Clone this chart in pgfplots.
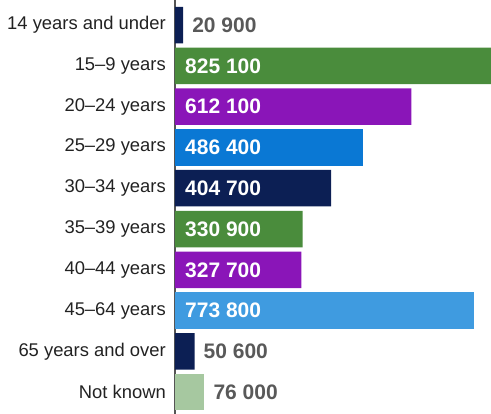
\documentclass[border=0pt]{standalone}
\usepackage{pgfplots}
\pgfplotsset{compat=1.18}
\usepackage{fontspec}
\setmainfont{Liberation Sans}

\definecolor{navy}{HTML}{0C1F54}
\definecolor{grn}{HTML}{4A8C3C}
\definecolor{purp}{HTML}{8A15B8}
\definecolor{blu}{HTML}{0A78D4}
\definecolor{lblu}{HTML}{3F9BE0}
\definecolor{lgrn}{HTML}{A6C8A0}
\definecolor{valgray}{HTML}{595959}
\definecolor{txt}{HTML}{222222}
\definecolor{axgray}{HTML}{555555}

\begin{document}
\begin{tikzpicture}
\begin{axis}[
   at={(0,0)}, anchor=south west,
   scale only axis,
   width=316pt, height=414pt,
   xmin=0, xmax=818600,
   ymin=-0.613, ymax=9.534,
   y dir=reverse,
   axis x line=none,
   axis y line*=left,
   axis line style={draw=axgray, line width=1.2pt},
   ytick={0,...,9},
   yticklabels={14 years and under, 15–9 years, 20–24 years, 25–29 years,
      30–34 years, 35–39 years, 40–44 years, 45–64 years,
      65 years and over, Not known},
   major tick length=0pt,
   yticklabel style={font=\fontsize{18.4}{21}\selectfont, text=txt, inner sep=0pt, xshift=-9pt},
   clip=true,
   ]
   % bars, one plot per colour
   \addplot[xbar, bar width=36.5pt, bar shift=0pt, fill=navy, draw=none]
      coordinates {(20900,0) (404700,4) (50600,8)};
   \addplot[xbar, bar width=36.5pt, bar shift=0pt, fill=grn, draw=none]
      coordinates {(825100,1) (330900,5)};
   \addplot[xbar, bar width=36.5pt, bar shift=0pt, fill=purp, draw=none]
      coordinates {(612100,2) (327700,6)};
   \addplot[xbar, bar width=36.5pt, bar shift=0pt, fill=blu, draw=none]
      coordinates {(486400,3)};
   \addplot[xbar, bar width=36.5pt, bar shift=0pt, fill=lblu, draw=none]
      coordinates {(773800,7)};
   \addplot[xbar, bar width=36.5pt, bar shift=0pt, fill=lgrn, draw=none]
      coordinates {(76000,9)};

   % labels inside the long bars
   \addplot[draw=none, mark=none, nodes near coords, point meta=explicit symbolic,
      nodes near coords style={anchor=west, inner sep=0pt, xshift=10pt, text=white,
         font=\bfseries\fontsize{21}{23}\selectfont}]
      coordinates {(0,1)[825 100] (0,2)[612 100] (0,3)[486 400] (0,4)[404 700]
         (0,5)[330 900] (0,6)[327 700] (0,7)[773 800]};
   % labels after the short bars
   \addplot[draw=none, mark=none, nodes near coords, point meta=explicit symbolic,
      nodes near coords style={anchor=west, inner sep=0pt, xshift=9pt, text=valgray,
         font=\bfseries\fontsize{21}{23}\selectfont}]
      coordinates {(20900,0)[20 900] (50600,8)[50 600] (76000,9)[76 000]};
\end{axis}
\pgfresetboundingbox
\path (-175pt,0) rectangle (316pt,414pt);
\end{tikzpicture}
\end{document}
